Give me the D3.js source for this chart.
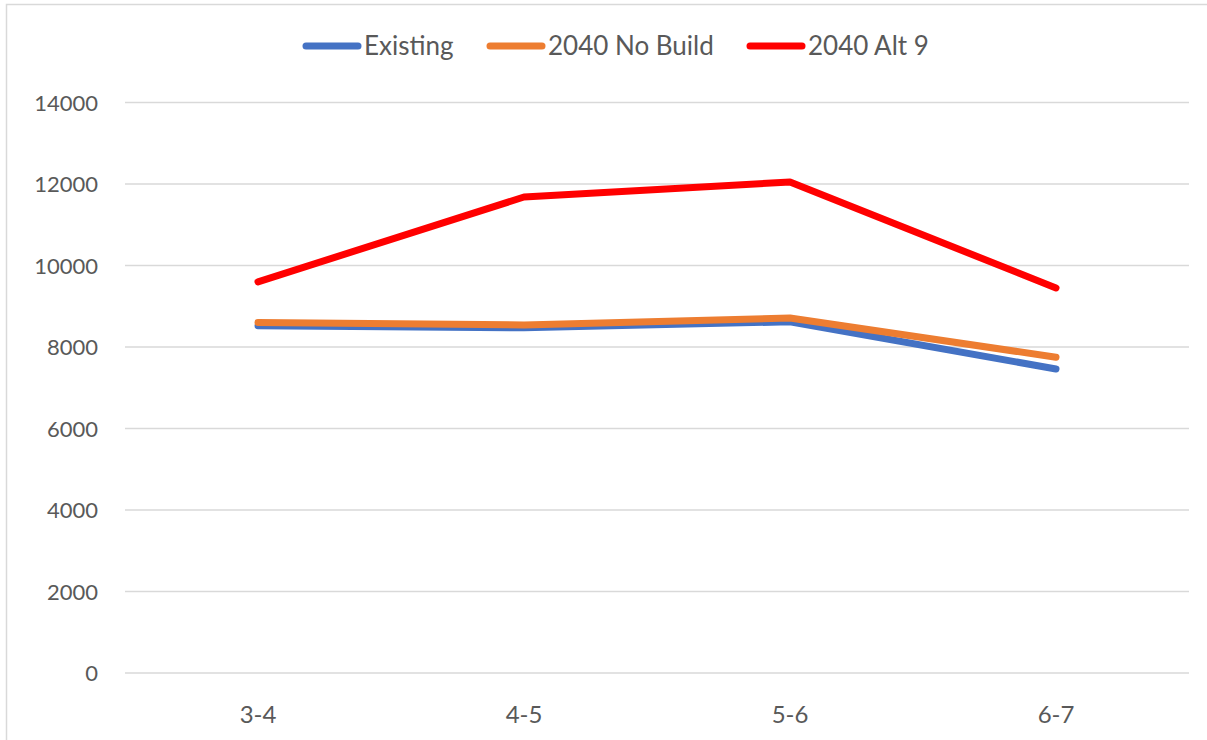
<!DOCTYPE html>
<html><head><meta charset="utf-8">
<script src="https://cdn.jsdelivr.net/npm/d3@7"></script>
<style>body{margin:0;background:#fff;} svg{display:block;}</style>
</head><body>
<svg id="chart" width="1207" height="740"></svg>
<script>
const categories = ["3-4", "4-5", "5-6", "6-7"];
const existing = [8520, 8470, 8620, 7460];
const noBuild = [8600, 8540, 8710, 7750];
const alt9 = [9600, 11680, 12050, 9450];
const seriesNames = ["Existing", "2040 No Build", "2040 Alt 9"];
const seriesColors = ["#4472C4", "#ED7D31", "#FF0000"];
const yTicks = [0, 2000, 4000, 6000, 8000, 10000, 12000, 14000];

const series = [existing, noBuild, alt9].map((v, i) => ({name: seriesNames[i], color: seriesColors[i], values: v}));
const svg = d3.select("#chart");
const font = "Lato, 'Open Sans', sans-serif";

// border
svg.append("path").attr("d", "M6.5,740 L6.5,4.5 L1207,4.5").attr("fill", "none").attr("stroke", "#d9d9d9").attr("stroke-width", 1.5);

const x = d3.scaleBand().domain(categories).range([125, 1189]);
const y = d3.scaleLinear().domain([0, 14000]).range([673, 102.5]);

// gridlines
svg.append("g").selectAll("line").data(yTicks).join("line")
  .attr("x1", 125).attr("x2", 1189)
  .attr("y1", d => y(d)).attr("y2", d => y(d))
  .attr("stroke", "#d9d9d9").attr("stroke-width", 1.3);

// y labels
const yAxis = d3.axisLeft(y).tickValues(yTicks).tickSize(0).tickPadding(0).tickFormat(d => d);
const gy = svg.append("g").attr("transform", "translate(98,0)").call(yAxis);
gy.select(".domain").remove();
gy.selectAll("text").attr("font-family", font).attr("font-size", 22).attr("fill", "#595959").attr("dy", "0.35em");

// x labels
const xAxis = d3.axisBottom(x).tickSize(0).tickPadding(0);
const gx = svg.append("g").attr("transform", "translate(0,715)").call(xAxis);
gx.select(".domain").remove();
gx.selectAll("text").attr("font-family", font).attr("font-size", 24).attr("fill", "#595959").attr("dy", "0.35em");

// lines
const line = d3.line().x((d, i) => x(categories[i]) + x.bandwidth() / 2).y(d => y(d));
svg.append("g").selectAll("path").data(series).join("path")
  .attr("d", d => line(d.values))
  .attr("fill", "none").attr("stroke", d => d.color)
  .attr("stroke-width", 7).attr("stroke-linecap", "round").attr("stroke-linejoin", "round");

// legend
const legendX = [306, 490, 750];
const lg = svg.append("g").selectAll("g").data(series).join("g")
  .attr("transform", (d, i) => `translate(${legendX[i]},46)`);
lg.append("line").attr("x1", 0).attr("x2", 52).attr("y1", 0).attr("y2", 0)
  .attr("stroke", d => d.color).attr("stroke-width", 7).attr("stroke-linecap", "round");
lg.append("text").attr("x", 58).attr("y", 0).attr("dy", "0.35em")
  .attr("font-family", font).attr("font-size", 26).attr("fill", "#595959").text(d => d.name);
</script>
</body></html>
